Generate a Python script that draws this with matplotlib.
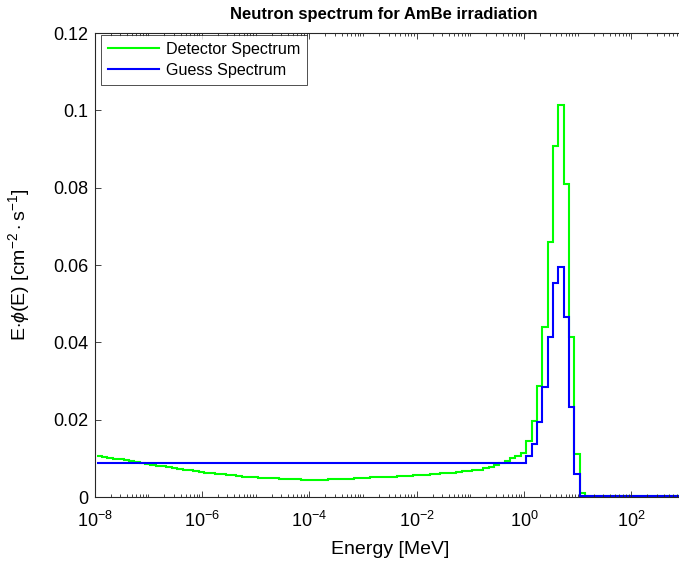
import numpy as np
import matplotlib
matplotlib.use('Agg')
import matplotlib.pyplot as plt

plt.rcParams['font.family'] = ['Liberation Sans', 'DejaVu Sans']
plt.rcParams['mathtext.fontset'] = 'custom'
plt.rcParams['mathtext.rm'] = 'Liberation Sans'
plt.rcParams['mathtext.it'] = 'Liberation Sans:italic'

# bin edges (log10 MeV): 10 bins per decade, 1e-8 .. 1e3
log_edges = np.arange(-80, 31) / 10 + 0.041
edges = 10 ** log_edges

# detector spectrum, read per bin
detector = [
    0.0105, 0.0103, 0.0101, 0.0099, 0.0097, 0.0095, 0.0092, 0.0090, 0.0088, 0.0085,
    0.0083, 0.0081, 0.0079, 0.0077, 0.0075, 0.0073, 0.0071, 0.0069, 0.0067, 0.0065,
    0.0063, 0.0062, 0.0060, 0.0059, 0.0057, 0.0056, 0.0055, 0.0053, 0.0052, 0.0051,
    0.0050, 0.0049, 0.0048, 0.0048, 0.0047, 0.0047, 0.0046, 0.0046, 0.0045, 0.0045,
    0.0045, 0.0045, 0.0045, 0.0046, 0.0046, 0.0046, 0.0047, 0.0047, 0.0048, 0.0049,
    0.0050, 0.0051, 0.0051, 0.0052, 0.0053, 0.0053, 0.0054, 0.0055, 0.0055, 0.0056,
    0.0057, 0.0058, 0.0059, 0.0060, 0.0061, 0.0062, 0.0063, 0.0064, 0.0066, 0.0067,
    0.0069, 0.0071, 0.0074, 0.0078, 0.0083, 0.0087, 0.0094, 0.0100, 0.0106, 0.0113,
    0.0145, 0.0197, 0.0288, 0.0439, 0.0660, 0.0908, 0.1015, 0.0810, 0.0415, 0.0110,
    0.0010, 0.0002, 0.0002, 0.0002, 0.0002, 0.0002, 0.0002, 0.0002, 0.0002, 0.0002,
    0.0002, 0.0002, 0.0002, 0.0002, 0.0002, 0.0002, 0.0002, 0.0002, 0.0002, 0.0002,
]

# guess spectrum: flat part, then the peak region
guess_flat = [0.0087] * 80
guess_peak = [0.0107, 0.0137, 0.0193, 0.0285, 0.0415, 0.0553, 0.0596, 0.0465, 0.0234, 0.0060,
              0.0003, 0.0002, 0.0002, 0.0002, 0.0002, 0.0002, 0.0002, 0.0002, 0.0002, 0.0002,
              0.0002, 0.0002, 0.0002, 0.0002, 0.0002, 0.0002, 0.0002, 0.0002, 0.0002, 0.0002]
guess = guess_flat + guess_peak

fig = plt.figure(figsize=(6.79, 5.63), dpi=100)
ax = fig.add_axes([94.5 / 679, 66 / 563, 590.5 / 679, 464 / 563])

ax.stairs(detector, edges, baseline=None, color=(0, 1, 0), lw=1.5, label='Detector Spectrum')
ax.stairs(guess, edges, baseline=None, color=(0, 0, 1), lw=1.5, label='Guess Spectrum')

ax.set_xscale('log')
ax.set_xlim(1e-8, 1e3)
ax.set_ylim(0, 0.12)

ax.set_xticks([1e-8, 1e-6, 1e-4, 1e-2, 1e0, 1e2])
ax.set_xticklabels([r'$10^{-8}$', r'$10^{-6}$', r'$10^{-4}$', r'$10^{-2}$', r'$10^{0}$', r'$10^{2}$'])
minor = [m * 10.0 ** d for d in range(-8, 3) for m in range(1, 10)
         if not (m == 1 and d % 2 == 0)]
ax.set_xticks(minor, minor=True)
ax.set_xticklabels([], minor=True)
ax.set_yticks([0, 0.02, 0.04, 0.06, 0.08, 0.1, 0.12])
ax.set_yticklabels(['0', '0.02', '0.04', '0.06', '0.08', '0.1', '0.12'])

axcol = (0.15, 0.15, 0.15)
for s in ax.spines.values():
    s.set_color(axcol)
    s.set_linewidth(0.8)
ax.tick_params(which='both', direction='in', top=True, right=True, colors=axcol,
               labelcolor='black', labelsize=13, width=0.6)
ax.tick_params(which='major', length=4.5)
ax.tick_params(which='minor', length=2.2)
ax.tick_params(axis='x', which='major', pad=10)
ax.tick_params(axis='y', which='major', pad=4.5)

ax.set_xlabel('Energy [MeV]', fontsize=14, labelpad=7)
ax.set_ylabel(r'E$\cdot\mathit{\phi}$(E) [cm$^{-2}\cdot$s$^{-1}$]', fontsize=14, labelpad=15)
ax.set_title('Neutron spectrum for AmBe irradiation', fontsize=12, fontweight='bold',
             pad=10, x=0.49)

leg = ax.legend(loc='upper left', bbox_to_anchor=(0.0075, 1.0), fontsize=11.6, frameon=True,
                fancybox=False, edgecolor='black', handlelength=3.2, borderaxespad=0.1,
                borderpad=0.45, labelspacing=0.35, handletextpad=0.4)
leg.get_frame().set_linewidth(0.6)

fig.savefig('out.png', dpi=100)
